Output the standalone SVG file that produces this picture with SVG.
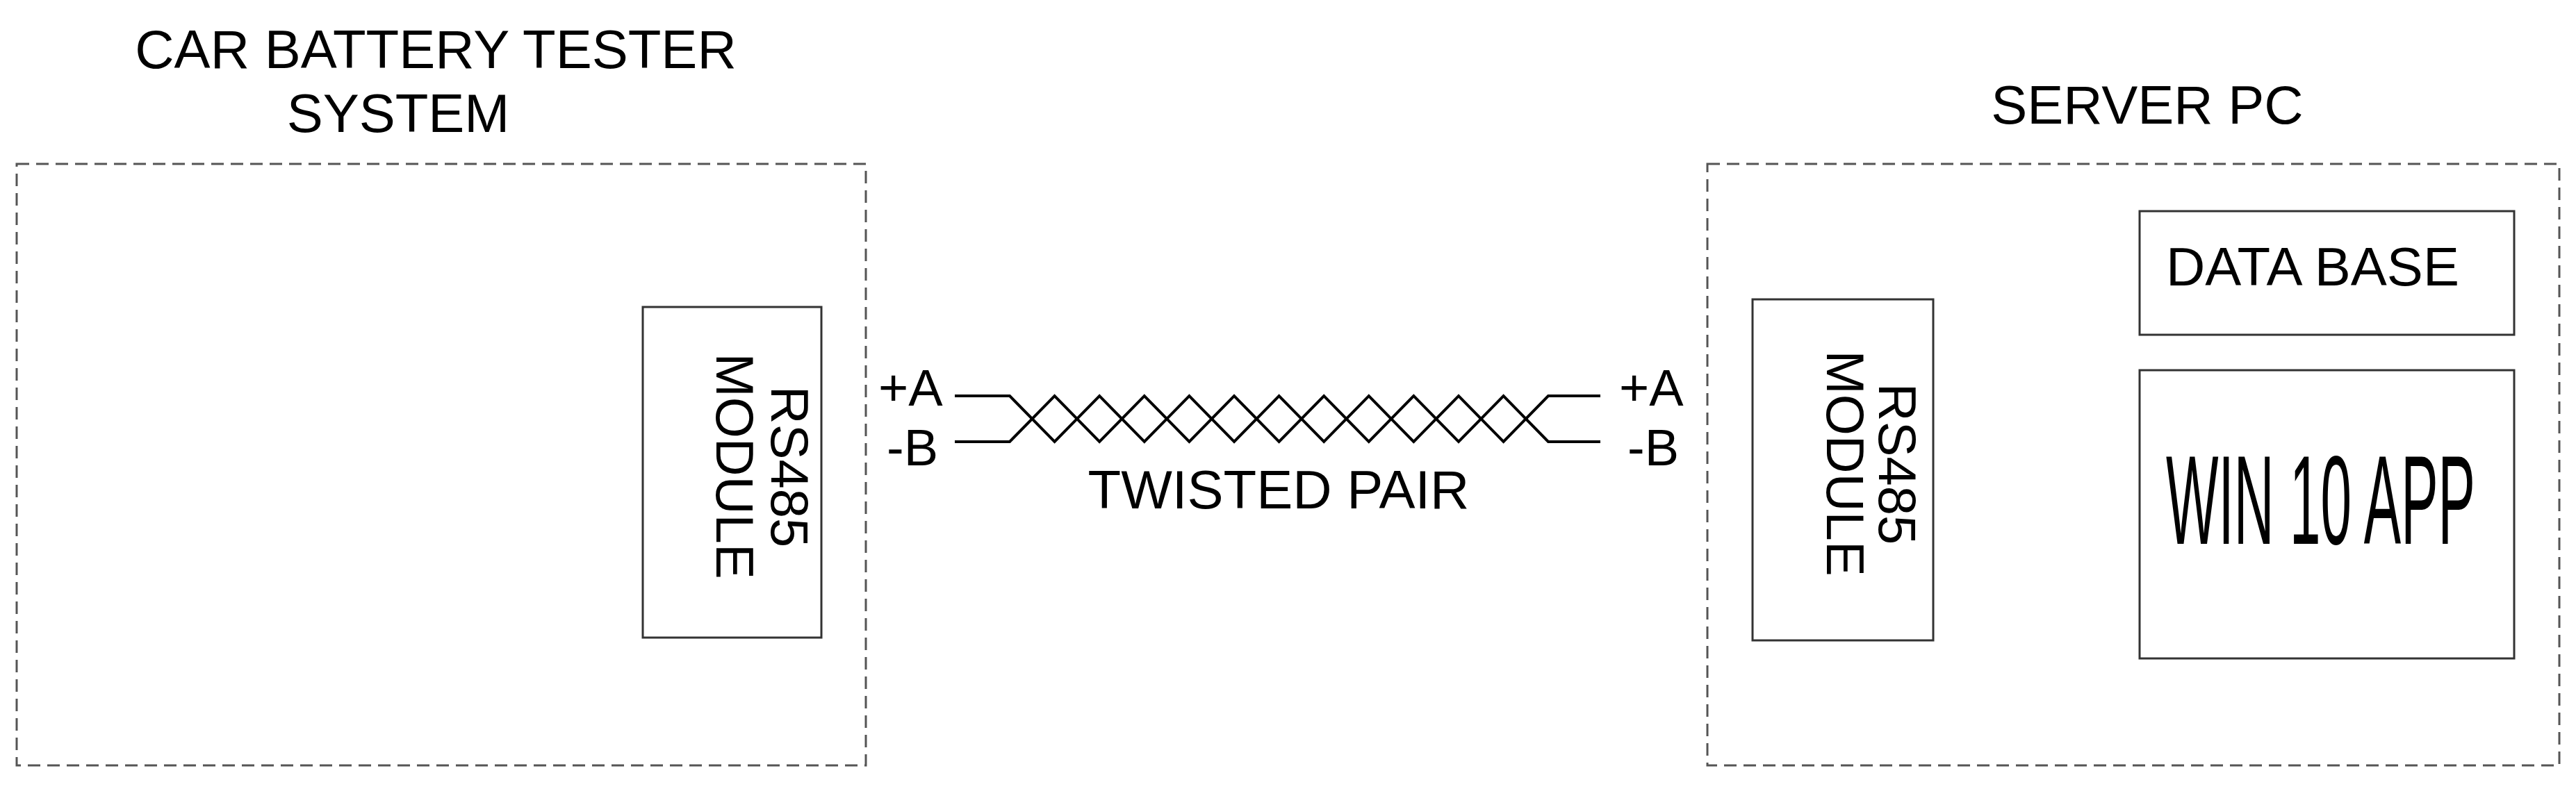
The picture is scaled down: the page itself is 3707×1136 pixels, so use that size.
<svg xmlns="http://www.w3.org/2000/svg" width="3707" height="1136" viewBox="0 0 3707 1136">
<style>
text{font-family:"Liberation Sans",Arial,sans-serif;fill:#000;font-size:78px}
.dash{fill:none;stroke:#555;stroke-width:3;stroke-dasharray:18 10}
.box{fill:#fff;stroke:#333;stroke-width:3}
.wire{fill:none;stroke:#000;stroke-width:4;stroke-linejoin:miter}
.m{text-anchor:middle}
.rot{font-size:76px}
.lbl{font-size:74px}
.big{font-size:182px}
</style>
<rect width="3707" height="1136" fill="#fff"/>
<g id="car-system">
<rect class="dash" x="24" y="236" width="1222" height="866"/>
<text class="m" x="627" y="98">CAR BATTERY TESTER</text>
<text class="m" x="573" y="190">SYSTEM</text>
</g>
<g id="rs485-left">
<rect class="box" x="925" y="442" width="257" height="476"/>
<text class="m rot" transform="translate(1110,672) rotate(90)">RS485</text>
<text class="m rot" transform="translate(1031,671) rotate(90)">MODULE</text>
</g>
<g id="server-pc">
<rect class="dash" x="2457" y="236" width="1226" height="866"/>
<text class="m" x="3090" y="178">SERVER PC</text>
</g>
<g id="rs485-right">
<rect class="box" x="2522" y="431" width="260" height="491"/>
<text class="m rot" transform="translate(2704,668) rotate(90)">RS485</text>
<text class="m rot" transform="translate(2629,667) rotate(90)">MODULE</text>
</g>
<g id="database">
<rect class="box" x="3079" y="304" width="539" height="178"/>
<text x="3117" y="411">DATA BASE</text>
</g>
<g id="win10app">
<rect class="box" x="3079" y="533" width="539" height="415"/>
<text class="big" x="3117" y="783" textLength="445" lengthAdjust="spacingAndGlyphs">WIN 10 APP</text>
</g>
<g id="connectors">
<polyline class="wire" points="1374,570 1453,570 1517.6,636 1582.2,570 1646.8,636 1711.4,570 1776,636 1840.6,570 1905.2,636 1969.8,570 2034.4,636 2099,570 2163.6,636 2228,570 2303,570"/>
<polyline class="wire" points="1374,636 1453,636 1517.6,570 1582.2,636 1646.8,570 1711.4,636 1776,570 1840.6,636 1905.2,570 1969.8,636 2034.4,570 2099,636 2163.6,570 2228,636 2303,636"/>
<text class="lbl" x="1264" y="584">+A</text>
<text class="lbl" x="1276" y="670">-B</text>
<text class="lbl" x="2330" y="584">+A</text>
<text class="lbl" x="2342" y="670">-B</text>
<text class="m" x="1840" y="732">TWISTED PAIR</text>
</g>
</svg>
